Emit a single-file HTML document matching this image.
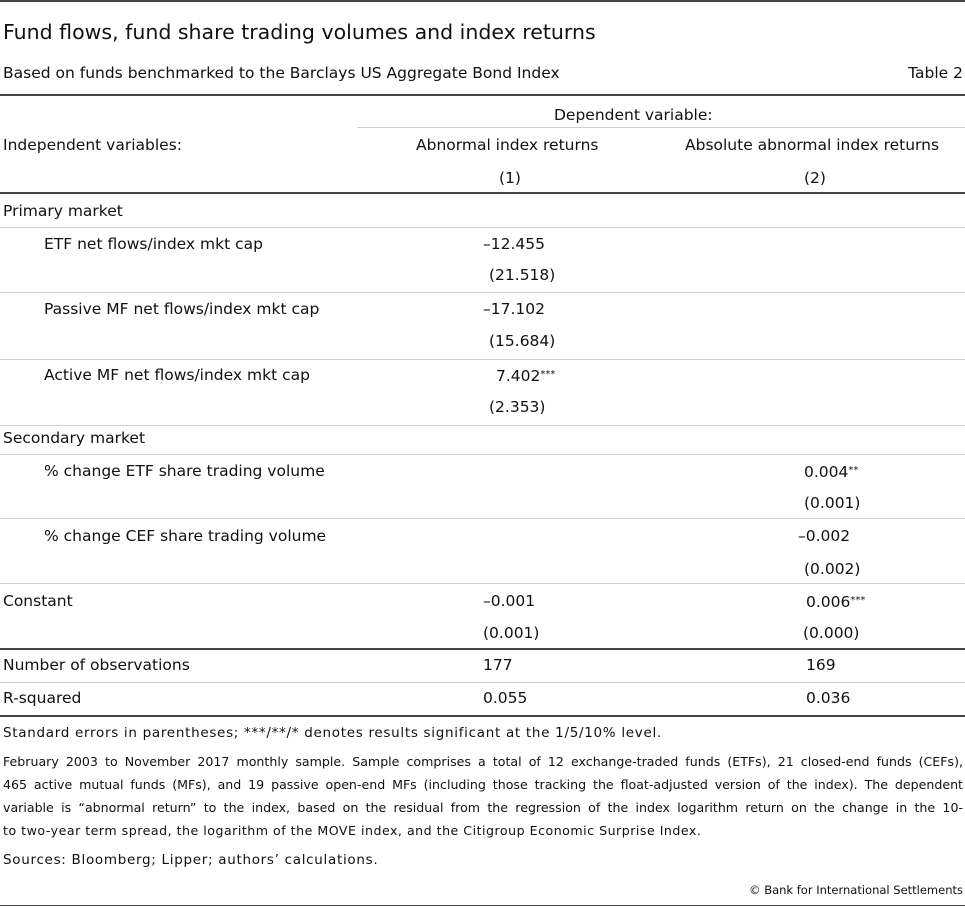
<!DOCTYPE html>
<html><head><meta charset="utf-8"><style>
body{margin:0;width:965px;height:908px;background:#fff;font-family:"DejaVu Sans","Liberation Sans",sans-serif;color:#111;position:relative;overflow:hidden}
.t{position:absolute;white-space:nowrap;font-size:15.5px;line-height:18px}
.n{font-size:13.5px;letter-spacing:0.7px}
.p{position:absolute;left:3px;width:960px;font-size:12.6px;line-height:18px;letter-spacing:0px;text-align:justify;text-align-last:justify;white-space:normal;height:18px;overflow:hidden}
.l{position:absolute;left:0;width:965px;height:1px;background:#d0d0d0}
.d{position:absolute;left:0;width:965px;height:2px;background:#444}
.s{font-size:10px;vertical-align:4px}
</style></head><body>
<div class="d" style="top:0"></div>
<div class="t" style="left:3px;top:20px;font-size:20.5px;line-height:24px">Fund flows, fund share trading volumes and index returns</div>
<div class="t" style="left:3px;top:64px">Based on funds benchmarked to the Barclays US Aggregate Bond Index</div>
<div class="t" style="right:2px;top:64px">Table 2</div>
<div class="d" style="top:94px"></div>
<div class="t" style="left:554px;top:106px">Dependent variable:</div>
<div class="l" style="top:127px;left:357px;width:608px"></div>
<div class="t" style="left:3px;top:136px">Independent variables:</div>
<div class="t" style="left:416px;top:136px">Abnormal index returns</div>
<div class="t" style="left:685px;top:136px">Absolute abnormal index returns</div>
<div class="t" style="left:499px;top:169px">(1)</div>
<div class="t" style="left:804px;top:169px">(2)</div>
<div class="d" style="top:192px"></div>
<div class="t" style="left:3px;top:202px">Primary market</div>
<div class="l" style="top:227px"></div>
<div class="t" style="left:44px;top:235px">ETF net flows/index mkt cap</div>
<div class="t" style="left:483px;top:235px">–12.455</div>
<div class="t" style="left:489px;top:266px">(21.518)</div>
<div class="l" style="top:292px"></div>
<div class="t" style="left:44px;top:300px">Passive MF net flows/index mkt cap</div>
<div class="t" style="left:483px;top:300px">–17.102</div>
<div class="t" style="left:489px;top:332px">(15.684)</div>
<div class="l" style="top:359px"></div>
<div class="t" style="left:44px;top:366px">Active MF net flows/index mkt cap</div>
<div class="t" style="left:496px;top:366px">7.402<span class="s">***</span></div>
<div class="t" style="left:489px;top:398px">(2.353)</div>
<div class="l" style="top:425px"></div>
<div class="t" style="left:3px;top:429px">Secondary market</div>
<div class="l" style="top:454px"></div>
<div class="t" style="left:44px;top:462px">% change ETF share trading volume</div>
<div class="t" style="left:804px;top:462px">0.004<span class="s">**</span></div>
<div class="t" style="left:804px;top:494px">(0.001)</div>
<div class="l" style="top:518px"></div>
<div class="t" style="left:44px;top:527px">% change CEF share trading volume</div>
<div class="t" style="left:798px;top:527px">–0.002</div>
<div class="t" style="left:804px;top:560px">(0.002)</div>
<div class="l" style="top:583px"></div>
<div class="t" style="left:3px;top:592px">Constant</div>
<div class="t" style="left:483px;top:592px">–0.001</div>
<div class="t" style="left:806px;top:592px">0.006<span class="s">***</span></div>
<div class="t" style="left:483px;top:624px">(0.001)</div>
<div class="t" style="left:803px;top:624px">(0.000)</div>
<div class="d" style="top:648px"></div>
<div class="t" style="left:3px;top:656px">Number of observations</div>
<div class="t" style="left:483px;top:656px">177</div>
<div class="t" style="left:806px;top:656px">169</div>
<div class="l" style="top:682px"></div>
<div class="t" style="left:3px;top:689px">R-squared</div>
<div class="t" style="left:483px;top:689px">0.055</div>
<div class="t" style="left:806px;top:689px">0.036</div>
<div class="d" style="top:715px"></div>
<div class="t n" style="left:3px;top:724px">Standard errors in parentheses; ***/**/* denotes results significant at the 1/5/10% level.</div>
<div class="p" style="top:753px">February 2003 to November 2017 monthly sample. Sample comprises a total of 12 exchange-traded funds (ETFs), 21 closed-end funds (CEFs),</div>
<div class="p" style="top:776px">465 active mutual funds (MFs), and 19 passive open-end MFs (including those tracking the float-adjusted version of the index). The dependent</div>
<div class="p" style="top:799px">variable is “abnormal return” to the index, based on the residual from the regression of the index logarithm return on the change in the 10-</div>
<div class="t" style="left:3px;top:822px;font-size:12.6px;letter-spacing:0.5px">to two-year term spread, the logarithm of the MOVE index, and the Citigroup Economic Surprise Index.</div>
<div class="t n" style="left:3px;top:851px">Sources: Bloomberg; Lipper; authors’ calculations.</div>
<div class="t" style="right:2px;top:881px;font-size:11.5px">© Bank for International Settlements</div>
<div class="d" style="top:905px;height:1px"></div>
</body></html>
